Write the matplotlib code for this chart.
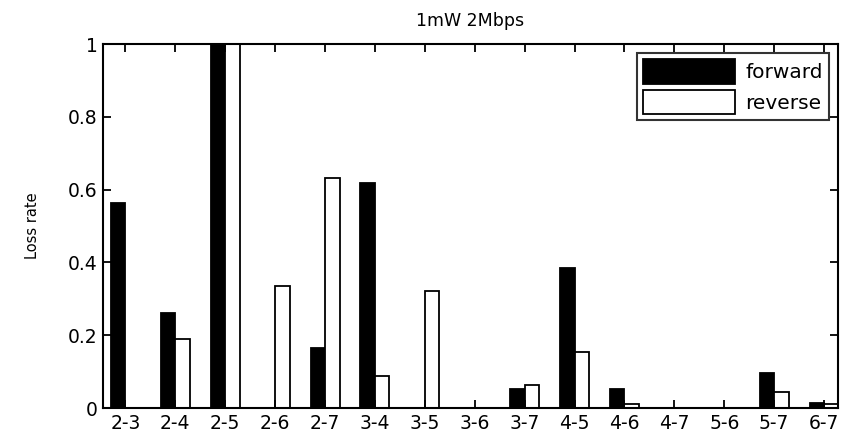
import matplotlib
matplotlib.use("Agg")
import matplotlib.pyplot as plt
import numpy as np

categories = ["2-3", "2-4", "2-5", "2-6", "2-7", "3-4", "3-5", "3-6", "3-7",
              "4-5", "4-6", "4-7", "5-6", "5-7", "6-7"]
forward = [0.563, 0.26, 1.0, 0.0, 0.166, 0.618, 0.0, 0.0, 0.052,
           0.386, 0.052, 0.0, 0.0, 0.096, 0.014]
reverse = [0.0, 0.189, 1.0, 0.335, 0.631, 0.087, 0.322, 0.0, 0.063,
           0.153, 0.012, 0.0, 0.0, 0.045, 0.012]
yticks = [0, 0.2, 0.4, 0.6, 0.8, 1]
ytick_labels = ["0", "0.2", "0.4", "0.6", "0.8", "1"]

plt.rcParams['font.family'] = ['DejaVu Sans']

fig = plt.figure(figsize=(8.54, 4.40), dpi=100)
ax = fig.add_axes([0.1206, 0.0727, 0.8607, 0.8273])

x = np.arange(1, len(categories) + 1)
w = 0.29
ax.bar(x - w / 2, forward, width=w, color="black", edgecolor="black",
       linewidth=1.3, label="forward")
ax.bar(x + w / 2, reverse, width=w, color="white", edgecolor="black",
       linewidth=1.3, label="reverse")

ax.set_xlim(0.55, 15.28)
ax.set_ylim(0, 1)
ax.set_xticks(x)
ax.set_xticklabels(categories, fontsize=13.5)
ax.set_yticks(yticks)
ax.set_yticklabels(ytick_labels, fontsize=13.5)
ax.tick_params(direction="in", length=6, width=1.3, top=True, right=True,
               pad=4, colors="black")
for s in ax.spines.values():
    s.set_linewidth(1.5)

ax.set_title("1mW 2Mbps", fontsize=12.5, pad=13)
ax.set_ylabel("Loss rate", fontsize=10.5, labelpad=20)

leg = ax.legend(loc="upper right", fontsize=14.5, frameon=True, fancybox=False,
                handlelength=4.6, handleheight=1.5, borderpad=0.3,
                labelspacing=0.3, handletextpad=0.5, borderaxespad=0.45,
                edgecolor="black")
leg.get_frame().set_linewidth(1.5)

fig.savefig("out.png", dpi=100)
